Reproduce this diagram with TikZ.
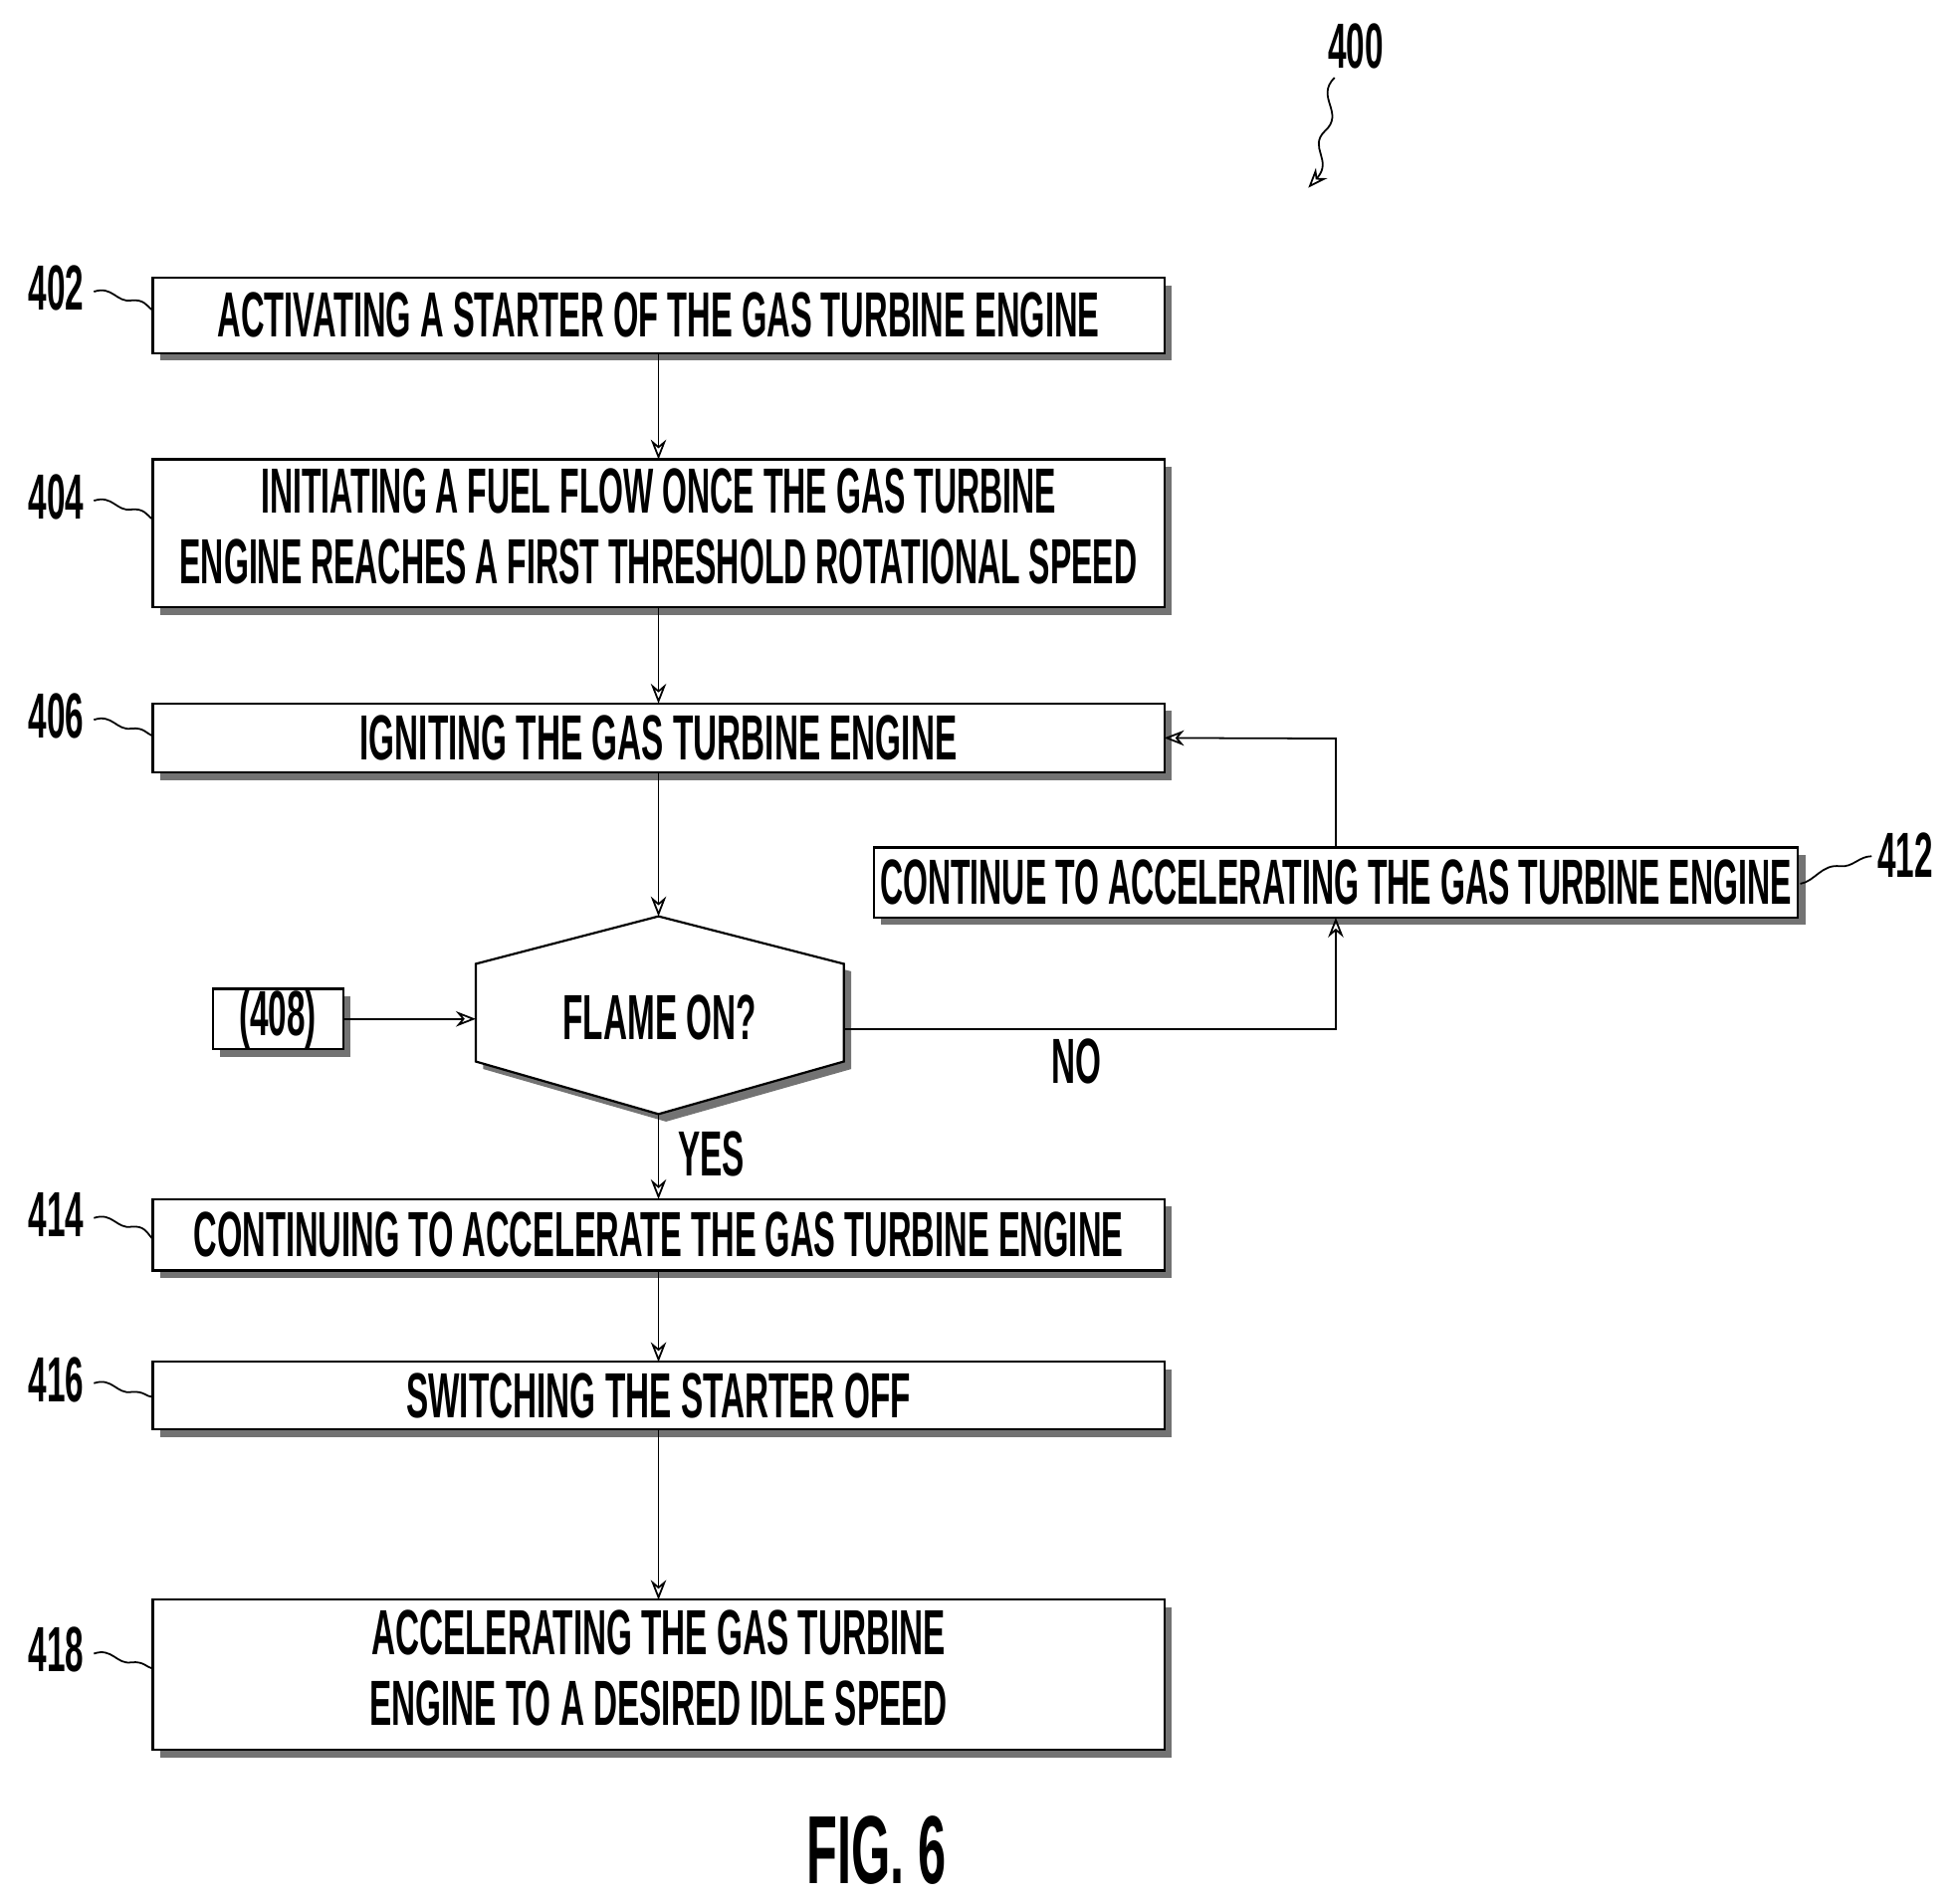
\documentclass[tikz,border=0pt]{standalone}
\usepackage{fontspec}
\setmainfont{Liberation Sans}
\usetikzlibrary{arrows.meta}
\newcommand{\cond}[2][0.52]{\scalebox{#1}[1]{\bfseries #2}}
\begin{document}
\begin{tikzpicture}[x=0.02cm,y=-0.02cm,
  box/.style={draw,line width=1pt,fill=white},
  shd/.style={fill=black!55},
  arr/.style={-{Stealth[length=9pt,width=7pt,open]},line width=0.8pt},
  lead/.style={line width=0.8pt},
  lbl/.style={font=\fontsize{29}{34}\selectfont}]
\useasboundingbox (0,0) rectangle (1560,1521);
\foreach \n/\a/\b/\c/\d in {b402/122/222/930/282,b404/122/367/930/485,b406/122/562/930/617,b412/698/677/1436/733,b414/122/958/930/1015,b416/122/1088/930/1142,b418/122/1278/930/1398,b408/170/790/274/838}{
  \fill[shd] (\a+6,\b+6) rectangle (\c+6,\d+6);
  \draw[box] (\a,\b) rectangle (\c,\d);
  \coordinate (\n) at ({(\a+\c)/2},{(\b+\d)/2});
  \coordinate (\n-w) at (\a,{(\b+\d)/2});
  \coordinate (\n-e) at (\c,{(\b+\d)/2});
  \coordinate (\n-n) at ({(\a+\c)/2},\b);
  \coordinate (\n-s) at ({(\a+\c)/2},\d);
}
\node[lbl] (t402) at (b402) {\cond[0.51]{ACTIVATING A STARTER OF THE GAS TURBINE ENGINE}};
\node[lbl,align=center] (t404) at (b404) {\cond[0.5]{\begin{tabular}{c}INITIATING A FUEL FLOW ONCE THE GAS TURBINE\\[-2pt] ENGINE REACHES A FIRST THRESHOLD ROTATIONAL SPEED\end{tabular}}};
\node[lbl] (t406) at (b406) {\cond{IGNITING THE GAS TURBINE ENGINE}};
\node[lbl] (t412) at (b412) {\cond[0.5]{CONTINUE TO ACCELERATING THE GAS TURBINE ENGINE}};
\node[lbl] (t414) at (b414) {\cond[0.51]{CONTINUING TO ACCELERATE THE GAS TURBINE ENGINE}};
\node[lbl] (t416) at (b416) {\cond{SWITCHING THE STARTER OFF}};
\node[lbl] (t418) at (b418) {\cond{\begin{tabular}{c}ACCELERATING THE GAS TURBINE\\[-2pt] ENGINE TO A DESIRED IDLE SPEED\end{tabular}}};
\node[lbl] (t408) at (b408) {\cond{(408)}};
\fill[shd] (532,738) -- (680,776) -- (680,854) -- (532,896) -- (386,854) -- (386,776) -- cycle;
\draw[box] (526,732) -- (674,770) -- (674,848) -- (526,890) -- (380,848) -- (380,770) -- cycle;
\coordinate (hn) at (526,732); \coordinate (hs) at (526,890);
\coordinate (hw) at (380,814); \coordinate (he) at (674,822);
\node[lbl] (tflame) at (527,813) {\cond{FLAME ON?}};
\draw[arr] (b402-s) -- (b404-n);
\draw[arr] (b404-s) -- (b406-n);
\draw[arr] (b406-s) -- (hn);
\draw[arr] (b408-e) -- (hw);
\draw[arr] (hs) -- (b414-n);
\draw[arr] (b414-s) -- (b416-n);
\draw[arr] (b416-s) -- (b418-n);
\coordinate (c1) at (1067,822);
\coordinate (c2) at (1067,590);
\draw[arr] (he) -- (c1) -- (b412-s);
\draw[arr] (b412-n) -- (c2) -- (b406-e);
\node[lbl] (tno) at (860,848) {\cond{NO}};
\node[lbl] (tyes) at (568,922) {\cond{YES}};
\foreach \n/\x/\y/\tx/\ty in {402/122/248/45/230,404/122/415/45/397,406/122/588/45/572,414/122/990/45/970,416/122/1116/45/1102,418/122/1333/45/1318}{
  \node[lbl] (r\n) at (\tx,\ty) {\cond{\n}};
  \draw[lead] (\tx+30,\ty+3) .. controls (\tx+45,\ty-2) and (\tx+48,\ty+12) .. (\tx+60,\ty+10) .. controls (\tx+70,\ty+9) and (\tx+72,\ty+14) .. (\x,\y);
}
\node[lbl] (r412) at (1522,683) {\cond{412}};
\draw[lead] (1438,706) .. controls (1450,704) and (1455,690) .. (1470,692) .. controls (1480,693) and (1485,684) .. (1495,684);
\node[lbl] (r400) at (1083,37) {\cond{400}};
\draw[arr] (1066,62) .. controls (1050,78) and (1075,90) .. (1058,105) .. controls (1045,118) and (1065,128) .. (1045,150);
\node[font=\fontsize{44}{50}\selectfont] (fig) at (700,1478) {\cond{FIG. 6}};
\end{tikzpicture}
\end{document}
